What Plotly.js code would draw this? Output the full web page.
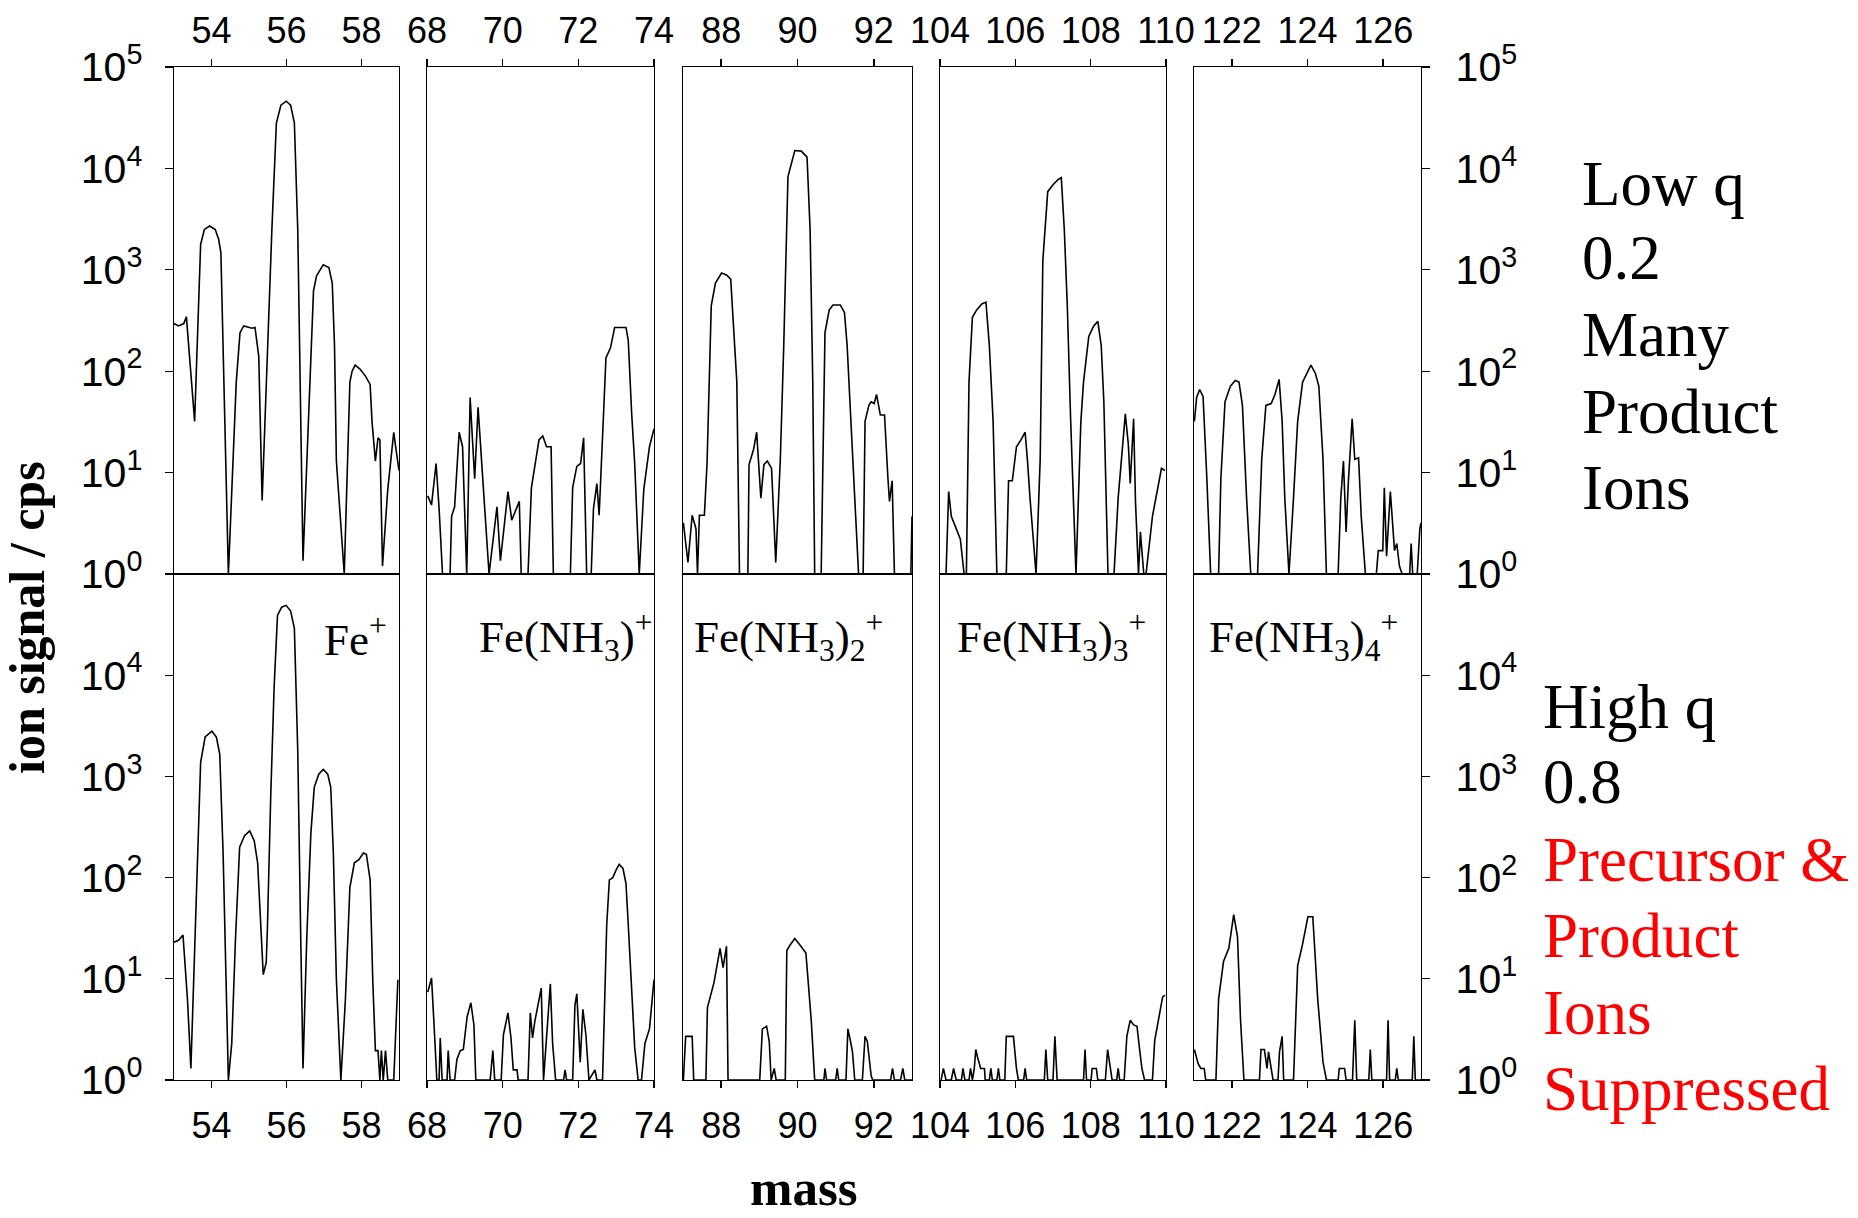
<!DOCTYPE html>
<html>
<head>
<meta charset="utf-8">
<script src="https://cdn.plot.ly/plotly-3.0.1.min.js"></script>
<style>
html,body{margin:0;padding:0;background:#fff;}
#chart{width:1858px;height:1218px;}
</style>
</head>
<body>
<div id="chart"></div>
<script>
// ---------------- DATA ----------------
// panel x ranges (mass) and tick values
const panelRanges = [[53, 59], [68, 74], [87, 93], [104, 110], [121, 127]];
const panelTicks = [[54, 56, 58], [68, 70, 72, 74], [88, 90, 92], [104, 106, 108, 110], [122, 124, 126]];

// y ticks (log axis)
const yTickValsTop = [1, 10, 100, 1000, 10000, 100000];
const yTickTextTop = ['10<sup>0</sup>', '10<sup>1</sup>', '10<sup>2</sup>', '10<sup>3</sup>', '10<sup>4</sup>', '10<sup>5</sup>'];
const yTickValsBottom = [1, 10, 100, 1000, 10000];
const yTickTextBottom = ['10<sup>0</sup>', '10<sup>1</sup>', '10<sup>2</sup>', '10<sup>3</sup>', '10<sup>4</sup>'];

// ion labels (bottom row)
const ionLabels = ['Fe<sup>+</sup>', 'Fe(NH<sub>3</sub>)<sup>+</sup>', 'Fe(NH<sub>3</sub>)<sub>2</sub><sup>+</sup>',
                   'Fe(NH<sub>3</sub>)<sub>3</sub><sup>+</sup>', 'Fe(NH<sub>3</sub>)<sub>4</sub><sup>+</sup>'];

// side notes
const lowQNotes = ['Low q', '0.2', 'Many', 'Product', 'Ions'];
const highQNotesBlack = ['High q', '0.8'];
const highQNotesRed = ['Precursor &amp;', 'Product', 'Ions', 'Suppressed'];

// ---- Low q (top row) ----
const fe_low_mass = [53.00,53.12,53.26,53.33,53.55,53.71,53.81,53.95,54.10,54.19,54.25,54.45,54.66,54.76,54.86,55.00,55.08,55.16,55.26,55.35,55.49,55.61,55.73,55.85,55.99,56.11,56.21,56.30,56.44,56.72,56.80,56.98,57.13,57.22,57.28,57.33,57.54,57.69,57.75,57.83,57.96,58.11,58.23,58.28,58.37,58.44,58.49,58.56,58.70,58.86,58.91,59.00];
const fe_low_cps = [295,280,295,345,32,1780,2500,2700,2500,2000,1480,1,78,240,280,270,265,270,140,5.3,180,2500,28000,42000,46000,42000,28000,2500,1.35,620,870,1120,1050,740,180,13,1,78,100,115,105,89,74,32,13,22,21,1.2,6.8,25,18,10.5];

const fe1_low_mass = [68.02,68.12,68.24,68.32,68.41,68.61,68.65,68.73,68.85,68.94,69.05,69.14,69.26,69.35,69.44,69.64,69.85,69.94,70.14,70.24,70.44,70.49,70.67,70.76,70.96,71.06,71.16,71.28,71.34,71.79,71.85,71.96,72.06,72.14,72.22,72.34,72.40,72.49,72.55,72.73,72.85,72.96,73.26,73.32,73.41,73.49,73.61,73.73,73.88,74.00];
const fe1_low_cps = [5.9,4.8,12.3,4.4,1,1,3.7,4.6,25,18,1,55,8.7,44,13.5,1,4.6,1.35,6.5,3.4,5.2,1,1,7.1,21,23,18,18,1,1,7.1,11.5,12.3,22,1,1,4.4,7.8,3.8,135,170,270,270,200,38,12.3,1,6.8,18,27];

const fe2_low_mass = [87.01,87.13,87.24,87.34,87.38,87.43,87.56,87.63,87.74,87.85,88.01,88.14,88.25,88.34,88.41,88.48,88.70,88.73,88.85,88.93,88.99,89.04,89.12,89.21,89.32,89.43,89.55,89.64,89.75,89.93,90.10,90.25,90.33,90.40,90.45,90.62,90.72,90.83,90.93,91.12,91.23,91.30,91.50,91.60,91.72,91.77,91.87,91.93,92.01,92.07,92.17,92.28,92.37,92.41,92.48,92.54,92.97,93.00];
const fe2_low_cps = [3.2,1.3,3.8,2.8,1,3.8,3.8,12.3,440,740,930,890,810,220,78,1,1,12,17,25,12.3,5.6,12,13,11,1.3,13.5,180,8300,15000,14800,12900,2500,78,1,1,240,400,450,450,380,180,5.6,1,1,32,46,50,48,59,37,37,8.7,5.2,8.3,1,1,3.7];

const fe3_low_mass = [104.00,104.16,104.23,104.30,104.43,104.54,104.64,104.70,104.77,104.86,104.97,105.11,105.22,105.31,105.41,105.51,105.76,105.82,105.92,106.03,106.15,106.26,106.32,106.39,106.55,106.66,106.73,106.86,107.00,107.14,107.22,107.30,107.38,107.47,107.61,107.74,107.81,107.95,108.08,108.19,108.28,108.35,108.46,108.62,108.73,108.82,108.92,109.00,109.05,109.14,109.19,109.27,109.32,109.41,109.47,109.64,109.80,109.88,109.97];
const fe3_low_cps = [1,1,6.5,3.7,2.8,2.2,1,1,78,340,400,460,480,180,32,1,1,8.3,8.3,18,21,25,13.5,5.6,1,13.5,1230,5900,6900,7800,8100,2500,440,32,1,32,78,220,280,310,180,50,1,1,5.6,13.5,38,19,7.8,34,5.2,1,2.6,1,1,3.7,8.1,11,10.5];

const fe4_low_mass = [121.01,121.07,121.15,121.24,121.34,121.44,121.65,121.71,121.82,121.96,122.09,122.19,122.28,122.39,122.50,122.68,122.79,122.90,123.04,123.14,123.25,123.33,123.40,123.51,123.63,123.74,123.87,123.98,124.09,124.21,124.30,124.41,124.50,124.81,124.88,124.95,125.02,125.08,125.18,125.25,125.35,125.42,125.53,125.82,125.87,125.99,126.03,126.09,126.19,126.30,126.36,126.43,126.50,126.70,126.74,126.78,126.90,126.97,127.00];
const fe4_low_cps = [32,55,66,56,8.7,1,1,8.7,50,71,81,78,46,5.6,1,1,13.5,46,48,59,83,32,5.6,1,5.6,32,78,95,115,95,71,13.5,1,1,5.6,13,2.6,8.1,34,13.5,14,3.7,1,1,1.7,1.7,7.1,1.5,6.5,1.7,2,1.2,1,1,2,1,1,2.8,3.2];

// ---- High q (bottom row) ----
const fe_high_mass = [53.00,53.12,53.24,53.36,53.45,53.53,53.63,53.71,53.83,54.01,54.13,54.22,54.31,54.39,54.45,54.54,54.64,54.75,54.88,55.02,55.14,55.23,55.32,55.38,55.46,55.49,55.58,55.67,55.76,55.87,55.99,56.11,56.21,56.30,56.38,56.44,56.54,56.65,56.74,56.86,56.98,57.10,57.18,57.25,57.33,57.45,57.57,57.69,57.81,57.93,58.05,58.13,58.23,58.30,58.37,58.44,58.49,58.53,58.58,58.64,58.70,58.86,58.97];
const fe_high_cps = [23,24,27,6.2,1.3,9.8,170,1380,2450,2800,2450,1660,170,9.8,1,2.3,25,200,260,290,230,140,25,11,14.5,31,650,7600,39000,47000,49000,43000,29000,1800,25,1.3,25,275,780,1050,1170,1050,780,170,9.8,1,6.2,80,140,150,175,170,95,9.8,1.95,1.95,1,1.95,1,1.95,1,1,9.8];

const fe1_high_mass = [68.02,68.12,68.20,68.26,68.32,68.35,68.40,68.53,68.56,68.61,68.73,68.79,68.88,68.96,69.06,69.16,69.24,69.29,69.67,69.74,69.79,69.96,70.02,70.14,70.22,70.28,70.38,70.41,70.67,70.73,70.79,70.85,70.96,71.02,71.08,71.20,71.26,71.32,71.40,71.61,71.65,71.69,71.85,71.91,71.96,72.05,72.12,72.20,72.28,72.44,72.49,72.64,72.69,72.75,72.82,72.91,72.99,73.08,73.18,73.26,73.32,73.41,73.49,73.58,73.67,73.76,73.88,74.00];
const fe1_high_cps = [7.4,10.2,2.8,1,1,2.6,1,1,1.95,1,1,1.6,1.95,2.0,4.2,5.8,3.5,1,1,1.95,1,1,2.8,4.6,2.6,1.26,1.26,1,1,4.6,2.6,3.8,6.2,8.1,1,5.0,8.9,2.3,1,1,1.26,1,1,5.5,7.1,1.5,5.0,2.8,1,1.26,1,1,6.8,34,95,100,117,135,123,87,34,7.4,2.1,1,1,2.3,3.2,9.8];

const fe2_high_mass = [87.01,87.07,87.17,87.24,87.28,87.60,87.64,87.81,87.91,87.97,88.05,88.14,88.18,89.01,89.08,89.19,89.26,89.31,89.39,89.44,89.68,89.72,89.82,89.93,90.09,90.22,90.36,90.45,90.69,90.72,90.76,91.00,91.04,91.08,91.27,91.32,91.39,91.44,91.50,91.70,91.77,91.83,91.93,91.97,92.44,92.49,92.54,92.70,92.76,92.81,93.00];
const fe2_high_cps = [1,2.7,2.7,2.7,1,1,5.2,9.1,14.8,20,12.9,21,1,1,3.2,3.4,2.4,1,1.3,1,1,19,22,25,21,18,3.9,1,1,1.3,1,1,1.3,1,1,3.2,2.4,1.9,1,1,2.7,2.4,1.1,1,1,1.3,1,1,1.3,1,1];

const fe3_high_mass = [104.03,104.09,104.16,104.30,104.36,104.43,104.57,104.61,104.66,104.77,104.81,104.86,104.91,104.95,105.00,105.08,105.18,105.20,105.31,105.35,105.39,105.51,105.55,105.59,105.72,105.76,105.95,106.03,106.08,106.22,106.26,106.30,106.77,106.81,106.86,107.00,107.05,107.11,107.81,107.85,107.89,108.01,108.04,108.15,108.19,108.39,108.45,108.53,108.57,108.69,108.73,108.77,108.89,108.96,109.05,109.14,109.23,109.30,109.36,109.43,109.64,109.70,109.81,109.91,109.97];
const fe3_high_cps = [1,1.3,1,1,1.3,1,1,1.3,1,1,1.3,1,1.3,2.0,1.66,1.3,1.3,1,1,1.3,1,1,1.3,1,1,2.7,2.7,1.3,1,1,1.3,1,1,2.0,1,1,2.7,1,1,2.0,1,1,1.3,1.3,1,1,2.0,1.3,1,1,1.3,1,1,2.7,3.9,3.5,3.4,2.0,1.3,1,1,2.45,4.3,6.6,6.9];

const fe4_high_mass = [121.01,121.11,121.18,121.27,121.31,121.58,121.65,121.78,121.92,122.05,122.15,122.23,122.32,122.73,122.77,122.86,122.93,122.97,123.04,123.09,123.22,123.26,123.33,123.37,123.63,123.74,123.87,124.01,124.14,124.27,124.41,124.50,124.81,124.84,124.98,125.02,125.19,125.25,125.30,125.62,125.66,125.70,126.09,126.13,126.17,126.32,126.36,126.40,126.77,126.81,126.85,127.00];
const fe4_high_cps = [2.0,1.45,1.3,1.3,1,1,6.3,14.8,20,43,26,3.9,1,1,2.0,2.0,1.3,1.9,1.3,1,1,1.9,2.7,1,1,13.5,22,41,41,6.3,1.5,1,1,1.3,1.3,1,1,3.9,1,1,2.0,1,1,3.9,1,1,1.3,1,1,2.7,1,1];

// ---------------- LAYOUT ----------------
const W = 1858, H = 1218;
const px = p => p / W;
const py = p => 1 - p / H;

const colPx = [[174, 399], [427, 654], [683, 912], [940, 1166], [1194, 1421]];
const rowPx = [[67, 574], [574, 1080]]; // top, bottom in pixels

const lowSeries = [[fe_low_mass, fe_low_cps], [fe1_low_mass, fe1_low_cps], [fe2_low_mass, fe2_low_cps], [fe3_low_mass, fe3_low_cps], [fe4_low_mass, fe4_low_cps]];
const highSeries = [[fe_high_mass, fe_high_cps], [fe1_high_mass, fe1_high_cps], [fe2_high_mass, fe2_high_cps], [fe3_high_mass, fe3_high_cps], [fe4_high_mass, fe4_high_cps]];

const SANS = 'Liberation Sans, Arial, Helvetica, sans-serif';
const SERIF = 'Liberation Serif, Times New Roman, Times, serif';

const traces = [];
const layout = {
  width: W, height: H,
  margin: {l: 0, r: 0, t: 0, b: 0, pad: 0},
  paper_bgcolor: '#ffffff', plot_bgcolor: 'rgba(0,0,0,0)',
  showlegend: false,
  font: {family: SANS, color: '#000'},
  annotations: []
};

for (let r = 0; r < 2; r++) {
  const series = r === 0 ? lowSeries : highSeries;
  for (let c = 0; c < 5; c++) {
    const i = r * 5 + c + 1;
    const xa = 'xaxis' + (i === 1 ? '' : i);
    const ya = 'yaxis' + (i === 1 ? '' : i);
    const xid = 'x' + (i === 1 ? '' : i);
    const yid = 'y' + (i === 1 ? '' : i);
    traces.push({
      x: series[c][0], y: series[c][1], xaxis: xid, yaxis: yid,
      type: 'scatter', mode: 'lines',
      line: {color: '#000', width: 1.6}, hoverinfo: 'skip'
    });
    layout[xa] = {
      domain: [px(colPx[c][0]), px(colPx[c][1])],
      anchor: yid, range: panelRanges[c], side: r === 0 ? 'top' : 'bottom',
      tickmode: 'array', tickvals: panelTicks[c], ticktext: panelTicks[c].map(String),
      showline: true, mirror: true, linecolor: '#000', linewidth: 1.4,
      ticks: 'outside', ticklen: 7, tickwidth: 1.4, tickcolor: '#000',
      showgrid: false, zeroline: false, fixedrange: true,
      tickfont: {family: SANS, size: 36, color: '#000'},
      ticklabelstandoff: r === 0 ? 1 : 6
    };
    const showY = (c === 0 || c === 4);
    layout[ya] = {
      domain: [py(rowPx[r][1]), py(rowPx[r][0])],
      anchor: xid, type: 'log', range: [0, 5],
      side: c === 4 ? 'right' : 'left',
      tickmode: 'array',
      tickvals: r === 0 ? yTickValsTop : yTickValsBottom,
      ticktext: r === 0 ? yTickTextTop : yTickTextBottom,
      showticklabels: showY, ticks: showY ? 'outside' : '',
      ticklen: 8, tickwidth: 1.4, tickcolor: '#000',
      showline: true, mirror: true, linecolor: '#000', linewidth: 1.4,
      showgrid: false, zeroline: false, fixedrange: true,
      tickfont: {family: SANS, size: 41, color: '#000'},
      ticklabelstandoff: c === 4 ? 17 : 14
    };
  }
}

// ion labels in the bottom row
const ionLabelLeft = [322, 477, 692, 955, 1207];
ionLabels.forEach((t, k) => {
  layout.annotations.push({
    xref: 'paper', yref: 'paper', x: px(ionLabelLeft[k]), y: py(636),
    xanchor: 'left', yanchor: 'middle', showarrow: false,
    text: t, font: {family: SERIF, size: 45, color: '#000'}
  });
});

// axis titles
layout.annotations.push({
  xref: 'paper', yref: 'paper', x: px(27), y: py(618), xanchor: 'center', yanchor: 'middle',
  showarrow: false, textangle: -90, text: '<b>ion signal / cps</b>',
  font: {family: SERIF, size: 50, color: '#000'}
});
layout.annotations.push({
  xref: 'paper', yref: 'paper', x: px(804), y: py(1217), xanchor: 'center', yanchor: 'bottom',
  showarrow: false, text: '<b>mass</b>', borderpad: 0,
  font: {family: SERIF, size: 51, color: '#000'}
});

// side notes
const lowQY = [184, 258, 335, 412, 488];
lowQNotes.forEach((t, k) => {
  layout.annotations.push({
    xref: 'paper', yref: 'paper', x: px(1580), y: py(lowQY[k]), xanchor: 'left', yanchor: 'middle',
    showarrow: false, text: t, font: {family: SERIF, size: 63, color: '#000'}
  });
});
const highQY = [707, 782, 860, 936, 1013, 1089];
highQNotesBlack.concat(highQNotesRed).forEach((t, k) => {
  layout.annotations.push({
    xref: 'paper', yref: 'paper', x: px(1541), y: py(highQY[k]), xanchor: 'left', yanchor: 'middle',
    showarrow: false, text: t,
    font: {family: SERIF, size: 63, color: k < 2 ? '#000' : '#ff0000'}
  });
});

Plotly.newPlot('chart', traces, layout, {displayModeBar: false, staticPlot: true});
</script>
</body>
</html>
